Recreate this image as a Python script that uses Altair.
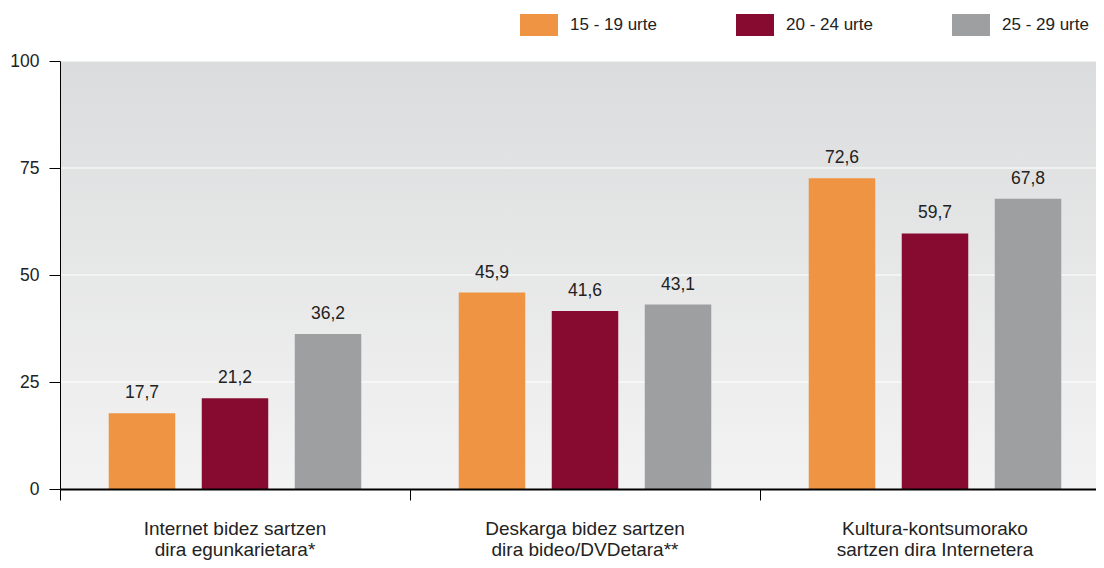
import altair as alt
import pandas as pd

categories = [
    "Internet bidez sartzen|dira egunkarietara*",
    "Deskarga bidez sartzen|dira bideo/DVDetara**",
    "Kultura-kontsumorako|sartzen dira Internetera",
]
groups = ["15 - 19 urte", "20 - 24 urte", "25 - 29 urte"]
v_15_19 = [17.7, 45.9, 72.6]
v_20_24 = [21.2, 41.6, 59.7]
v_25_29 = [36.2, 43.1, 67.8]
colors = ["#EF9442", "#870B30", "#9E9FA1"]
y_ticks = [0, 25, 50, 75, 100]

rows = []
for g, vals in zip(groups, [v_15_19, v_20_24, v_25_29]):
    for c, v in zip(categories, vals):
        rows.append({"cat": c, "group": g, "value": v,
                     "label": f"{v:.1f}".replace(".", ",")})
df = pd.DataFrame(rows)
grid_df = pd.DataFrame({"tick": y_ticks[1:]})

W, H = 1036, 428
XR = 1050
FONT = "Liberation Sans"
TXT = "#222222"

y_scale = alt.Scale(domain=[0, 100])

x_enc = alt.X(
    "cat:N", sort=categories,
    scale=alt.Scale(range=[0, XR], paddingInner=0, paddingOuter=0),
    axis=alt.Axis(
        title=None, bandPosition=0, tickSize=11,
        labelAngle=0, domainColor="black", domainWidth=1.8,
        tickColor="black", tickWidth=1,
        labelExpr="split(datum.label, '|')", labelFontSize=19,
        labelFont=FONT, labelColor=TXT, labelLineHeight=21,
        labelPadding=19, labelBaseline="top", labelLimit=500, zindex=1,
    ),
)
y_enc = alt.Y(
    "value:Q", scale=y_scale,
    axis=alt.Axis(
        title=None, values=y_ticks, grid=False, tickSize=11,
        domainColor="black", domainWidth=1, tickColor="black",
        labelFontSize=17.5, labelFont=FONT, labelColor=TXT,
        labelPadding=10, zindex=1,
    ),
)

background = alt.Chart(alt.Data(values=[{}])).mark_rect().encode(
    x=alt.value(0), x2=alt.value(XR), y=alt.value(0), y2=alt.value(H),
    color=alt.value({
        "gradient": "linear", "x1": 0, "y1": 0, "x2": 0, "y2": 1,
        "stops": [{"offset": 0, "color": "#DBDCDD"},
                  {"offset": 1, "color": "#F3F3F3"}],
    }),
)

grid = alt.Chart(grid_df).mark_rule(color="white", strokeWidth=1.2).encode(
    y=alt.Y("tick:Q", scale=y_scale),
    x=alt.value(0), x2=alt.value(XR),
)

bars = alt.Chart(df).mark_bar().encode(
    x=x_enc,
    xOffset=alt.XOffset("group:N", sort=groups,
                        scale=alt.Scale(paddingInner=0.285, paddingOuter=0.524)),
    y=y_enc,
    color=alt.Color(
        "group:N", sort=groups,
        scale=alt.Scale(domain=groups, range=colors),
        legend=alt.Legend(
            title=None, orient="none", legendX=460, legendY=-55.5,
            direction="horizontal", symbolType="M-1,-0.58H1V0.58H-1Z",
            symbolSize=1444, symbolStrokeWidth=0, symbolOpacity=1,
            labelFontSize=17, labelFont=FONT, labelColor=TXT,
            labelOffset=12, columnPadding=79, padding=0,
        ),
    ),
)

labels = alt.Chart(df).mark_text(
    baseline="alphabetic", dy=-15, fontSize=17.5, font=FONT, color=TXT,
).encode(
    x=alt.X("cat:N", sort=categories),
    xOffset=alt.XOffset("group:N", sort=groups),
    y=alt.Y("value:Q", scale=y_scale),
    text="label:N",
)

chart = alt.layer(background, grid, bars, labels).properties(
    width=W, height=H,
    autosize=alt.AutoSizeParams(type="none"),
    padding={"left": 52, "top": 53, "right": 0, "bottom": 71},
).configure_view(stroke=None).configure(background="white")

chart.save("out.html", embed_options={"renderer": "svg", "actions": False})
